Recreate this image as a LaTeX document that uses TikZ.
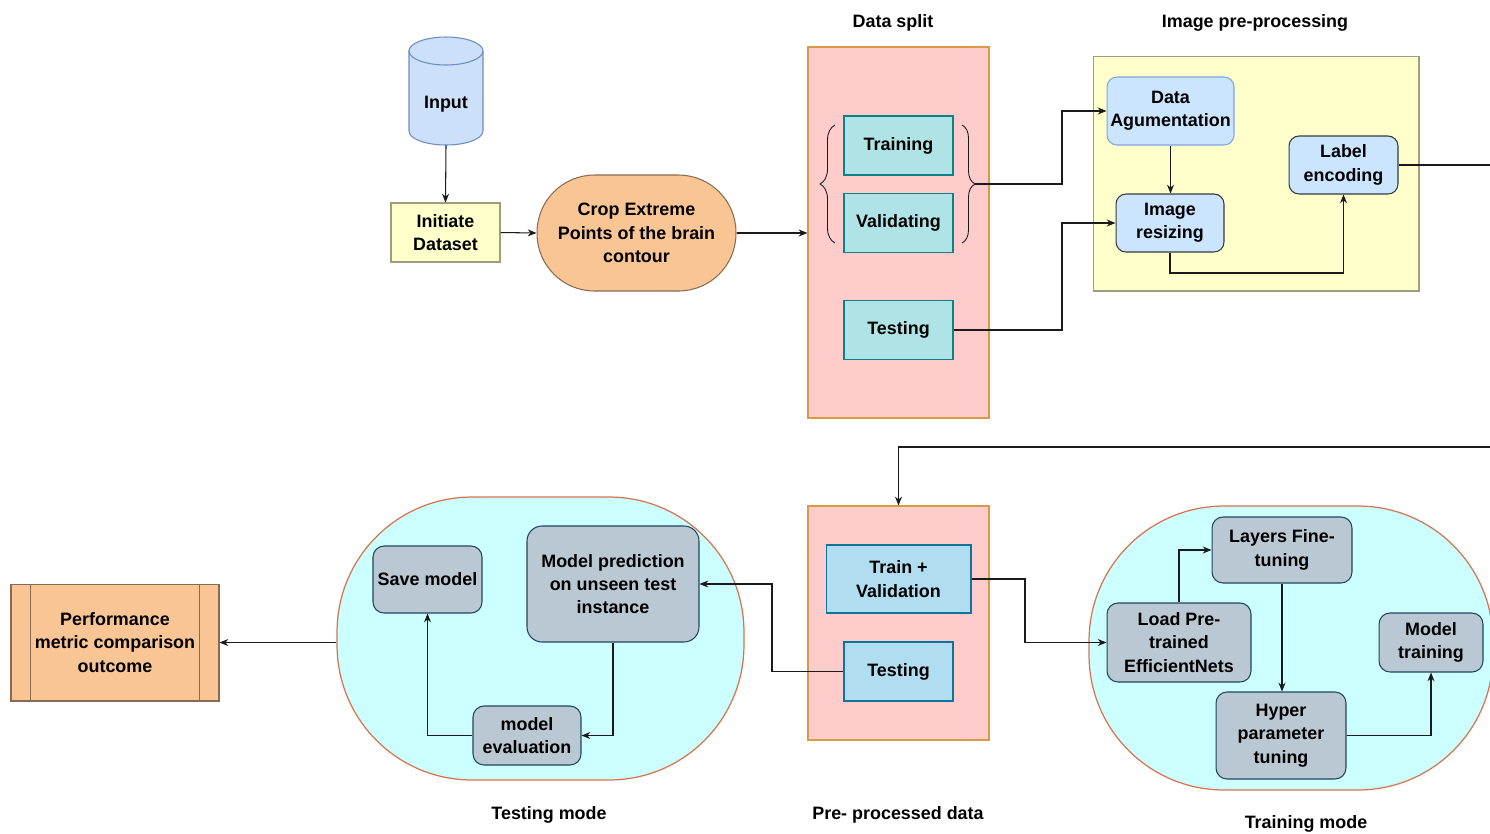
\documentclass[tikz,border=0pt]{standalone}
\usepackage{fontspec}
\setmainfont{Liberation Sans}
\usetikzlibrary{arrows.meta,decorations.pathreplacing}

\definecolor{cylfill}{HTML}{CCE0FA}
\definecolor{cyledge}{HTML}{6C8EBF}
\definecolor{yelfill}{HTML}{FFFFCC}
\definecolor{yeledge}{HTML}{9E9E7A}
\definecolor{orfill}{HTML}{FAC595}
\definecolor{oredge}{HTML}{8A6A50}
\definecolor{pinkfill}{HTML}{FFCCCC}
\definecolor{pinkedge}{HTML}{D79B48}
\definecolor{tealfill}{HTML}{B0E3E6}
\definecolor{tealedge}{HTML}{0E8088}
\definecolor{skyfill}{HTML}{B1DDF0}
\definecolor{skyedge}{HTML}{10739E}
\definecolor{bluefill}{HTML}{CCE5FF}
\definecolor{blueedge}{HTML}{36393D}
\definecolor{lightedge}{HTML}{7EA6E0}
\definecolor{blobfill}{HTML}{CCFFFF}
\definecolor{blobedge}{HTML}{D9734E}
\definecolor{grayfill}{HTML}{BAC8D3}
\definecolor{grayedge}{HTML}{23445D}
\definecolor{wire}{HTML}{1A1A1A}

\tikzset{
  every node/.style={font=\bfseries\fontsize{10.2pt}{13.3pt}\selectfont, align=center, inner sep=0pt},
  cbox/.style={draw, line width=0.6pt, minimum width=#1},
  tealbox/.style={cbox=2.18cm, minimum height=1.18cm, fill=tealfill, draw=tealedge},
  bluebox/.style={draw=blueedge, line width=0.6pt, fill=bluefill, rounded corners=0.2cm},
  graybox/.style={draw=grayedge, line width=0.6pt, fill=grayfill, rounded corners=0.22cm},
  panel/.style={draw=pinkedge, line width=0.7pt, fill=pinkfill, minimum width=3.62cm},
  blob/.style={draw=blobedge, line width=0.7pt, fill=blobfill, rounded corners=2.7cm},
  title/.style={font=\bfseries\fontsize{10.2pt}{13.3pt}\selectfont},
  wirearrow/.style={draw=wire, line width=0.6pt, -{Stealth[length=5pt,width=4pt]}},
}

\begin{document}
\begin{tikzpicture}[x=0.02cm, y=-0.02cm]
\useasboundingbox (0,0) rectangle (1490,833);

% ---- containers -------------------------------------------------------
\node[panel, minimum height=7.42cm] (split) at (898.5,232.5) {};
\node[draw=yeledge, line width=0.6pt, fill=yelfill, minimum width=6.52cm, minimum height=4.70cm] (prebox) at (1256,173.5) {};
\node[panel, minimum height=4.68cm] (prep) at (898.5,623) {};
\node[blob, minimum width=8.14cm, minimum height=5.66cm] (testblob) at (540.5,638.5) {};
\node[blob, minimum width=8.08cm, minimum height=5.68cm] (trainblob) at (1291,648) {};

% ---- titles -----------------------------------------------------------
\node[title] (tsplit) at (893,23) {Data split};
\node[title] (tpre) at (1255,23) {Image pre-processing};
\node[title] (ttest) at (549,815) {Testing mode};
\node[title] (tprep) at (898,815) {Pre- processed data};
\node[title] (ttrain) at (1306,824) {Training mode};

% ---- input cylinder ---------------------------------------------------
\filldraw[fill=cylfill, draw=cyledge, line width=0.6pt]
  (409,51) -- (409,131)
  arc[start angle=180, end angle=360, x radius=0.74cm, y radius=0.28cm]
  -- (483,51)
  arc[start angle=0, end angle=180, x radius=0.74cm, y radius=0.28cm] -- cycle;
\draw[draw=cyledge, line width=0.6pt]
  (409,51) arc[start angle=180, end angle=360, x radius=0.74cm, y radius=0.28cm];
\node[minimum width=1.48cm, minimum height=2.16cm] (input) at (446,91) {};
\node (inputtxt) at (446,104) {Input};

% ---- first row --------------------------------------------------------
\node[cbox=2.18cm, minimum height=1.18cm, fill=yelfill, draw=yeledge] (init) at (445.5,232.5) {Initiate\\Dataset};
\node[cbox=3.98cm, minimum height=2.32cm, fill=orfill, draw=oredge, rounded corners=1.15cm] (crop) at (636.5,233) {Crop Extreme\\Points of the brain\\contour};

\node[tealbox] (training) at (898.5,145.5) {Training};
\node[tealbox] (validating) at (898.5,223) {Validating};
\node[tealbox] (testA) at (898.5,330) {Testing};

% curly brackets around the training and validation sets
\draw[wire, line width=0.5pt, decorate, decoration={brace, amplitude=0.3cm}]
  (835,243) -- (835,125);
\draw[wire, line width=0.5pt, decorate, decoration={brace, amplitude=0.26cm}]
  (962,125) -- (962,243);
\coordinate (brR) at (975,184);

\node[bluebox, draw=lightedge, minimum width=2.54cm, minimum height=1.36cm] (aug) at (1170.5,111) {Data\\Agumentation};
\node[bluebox, minimum width=2.16cm, minimum height=1.16cm] (resize) at (1170,223) {Image\\resizing};
\node[bluebox, minimum width=2.18cm, minimum height=1.16cm] (label) at (1343.5,165) {Label\\encoding};

% ---- pre-processed data -----------------------------------------------
\node[cbox=2.90cm, minimum height=1.36cm, fill=skyfill, draw=skyedge] (trainval) at (898.5,579) {Train +\\Validation};
\node[cbox=2.18cm, minimum height=1.18cm, fill=skyfill, draw=skyedge] (testB) at (898.5,671.5) {Testing};

% ---- training mode ----------------------------------------------------
\node[graybox, minimum width=2.88cm, minimum height=1.58cm] (load) at (1179,642.5) {Load Pre-\\trained\\EfficientNets};
\node[graybox, minimum width=2.80cm, minimum height=1.32cm] (layers) at (1282,550) {Layers Fine-\\tuning};
\node[graybox, minimum width=2.60cm, minimum height=1.74cm] (hyper) at (1281,735.5) {Hyper\\parameter\\tuning};
\node[graybox, minimum width=2.08cm, minimum height=1.18cm] (mtrain) at (1431,642.5) {Model\\training};

% ---- testing mode -----------------------------------------------------
\node[graybox, minimum width=2.18cm, minimum height=1.34cm] (save) at (427.5,579.5) {Save model};
\node[graybox, rounded corners=0.3cm, minimum width=3.44cm, minimum height=2.32cm] (pred) at (613,584) {Model prediction\\on unseen test\\instance};
\node[graybox, minimum width=2.16cm, minimum height=1.18cm] (eval) at (527,735.5) {model\\evaluation};

% ---- output -----------------------------------------------------------
\node[cbox=4.16cm, minimum height=2.34cm, fill=orfill, draw=oredge] (perf) at (115,642.5) {Performance\\metric comparison\\outcome};
\draw[draw=oredge, line width=0.6pt] ([xshift=0.4cm]perf.north west) -- ([xshift=0.4cm]perf.south west);
\draw[draw=oredge, line width=0.6pt] ([xshift=-0.4cm]perf.north east) -- ([xshift=-0.4cm]perf.south east);

% ---- connectors -------------------------------------------------------
\path[wirearrow] (input.south) -- (init.north);
\path[wirearrow] (init.east) -- (crop.west);
\path[wirearrow] (crop.east) -- (crop.east -| split.west);
\path[wirearrow] (brR) -- (1062,184) |- (aug.west);
\path[wirearrow] (testA.east) -- (1062,330) |- (resize.west);
\path[wirearrow] (aug.south) -- (aug.south |- resize.north);
\path[wirearrow] (resize.south) -- (1170,273) -| (label.south);
\path[wirearrow] (label.east) -- (1500,165) -- (1500,447) -| (prep.north);
\path[wirearrow] (trainval.east) -- (1025,579) |- (load.west);
\path[wirearrow] (load.north) |- (layers.west);
\path[wirearrow] (layers.south) -- (layers.south |- hyper.north);
\path[wirearrow] (hyper.east) -| (mtrain.south);
\path[wirearrow] (testB.west) -- (772,671.5) |- (pred.east);
\path[wirearrow] (pred.south) |- (eval.east);
\path[wirearrow] (eval.west) -| (save.south);
\path[wirearrow] (perf.east -| testblob.west) -- (perf.east);

\end{tikzpicture}
\end{document}
